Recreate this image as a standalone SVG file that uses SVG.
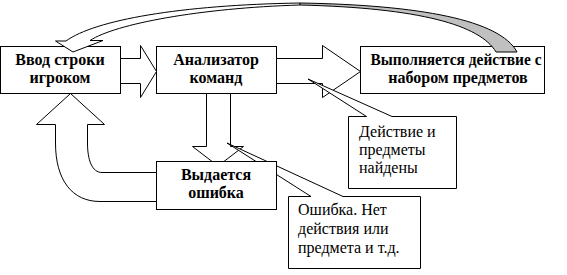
<svg xmlns="http://www.w3.org/2000/svg" width="567" height="275" viewBox="0 0 567 275">
<style>
.box{fill:#fff;stroke:#000;stroke-width:1}
.arr{fill:#fff;stroke:#000;stroke-width:1;stroke-linejoin:miter}
.grey{fill:#c0c0c0;stroke:#000;stroke-width:1}
.t{font-family:"Liberation Serif","Times New Roman",serif;font-size:16px;fill:#000}
.b{font-weight:bold;text-anchor:middle}
</style>
<rect width="567" height="275" fill="#fff"/>
<g id="node-input">
<rect class="box" x="0.5" y="46.5" width="120" height="47"/>
<text class="t b" x="60" y="65">Ввод строки</text>
<text class="t b" x="60" y="83">игроком</text>
</g>
<g id="node-analyzer">
<rect class="box" x="156.5" y="46.5" width="120" height="47"/>
<text class="t b" x="216" y="65">Анализатор</text>
<text class="t b" x="216" y="83">команд</text>
</g>
<g id="node-execute">
<rect class="box" x="360.5" y="46.5" width="184" height="47"/>
<text class="t b" x="456" y="65" textLength="171" lengthAdjust="spacingAndGlyphs">Выполняется действие с</text>
<text class="t b" x="458" y="83">набором предметов</text>
</g>
<g id="connectors">
<path class="arr" d="M120.5 58.5 H140.5 V45.5 L156.5 71.5 L140.5 97.5 V83.5 H120.5 Z"/>
<path class="arr" d="M276.5 58.5 H322.5 V45.5 L360.5 71.5 L322.5 97.5 V83.5 H276.5 Z"/>
<path class="arr" d="M206.5 93.5 V146.5 H192.5 L218 166 L243.5 146.5 H230.5 V93.5 Z"/>
<path class="arr" d="M156.5 201.5 H100 C72 201.5 55.5 180 55.5 143 V124.5 H36.5 L70.5 93.5 L104.5 124.5 H87.5 V143 C87.5 160 92 172.5 102 172.5 H156.5"/>
<path class="arr" d="M300 3 C180 5 95 20 66 41 H55.5 L73 52 L103 40.5 H90 C115 24 200 8 300 5 Z"/>
<path class="grey" d="M300 3 C420 5 500 20 517 52 H496 C480 25 420 8 300 5 Z"/>
</g>
<g id="note-found">
<path class="box" d="M348.5 116.5 H366.5 L308 79 L392 116.5 H456.5 V188.5 H348.5 Z"/>
<text class="t" x="359" y="137">Действие и</text>
<text class="t" x="359" y="155">предметы</text>
<text class="t" x="359" y="173">найдены</text>
</g>
<g id="note-error">
<path class="box" d="M288.5 196.5 H311 L227 143 L343 196.5 H420.5 V268.5 H288.5 Z"/>
<text class="t" x="298" y="215">Ошибка. Нет</text>
<text class="t" x="298" y="234">действия или</text>
<text class="t" x="298" y="253">предмета и т.д.</text>
</g>
<g id="node-error">
<rect class="box" x="156.5" y="161.5" width="120" height="48"/>
<text class="t b" x="216" y="180">Выдается</text>
<text class="t b" x="216" y="198">ошибка</text>
</g>
</svg>
